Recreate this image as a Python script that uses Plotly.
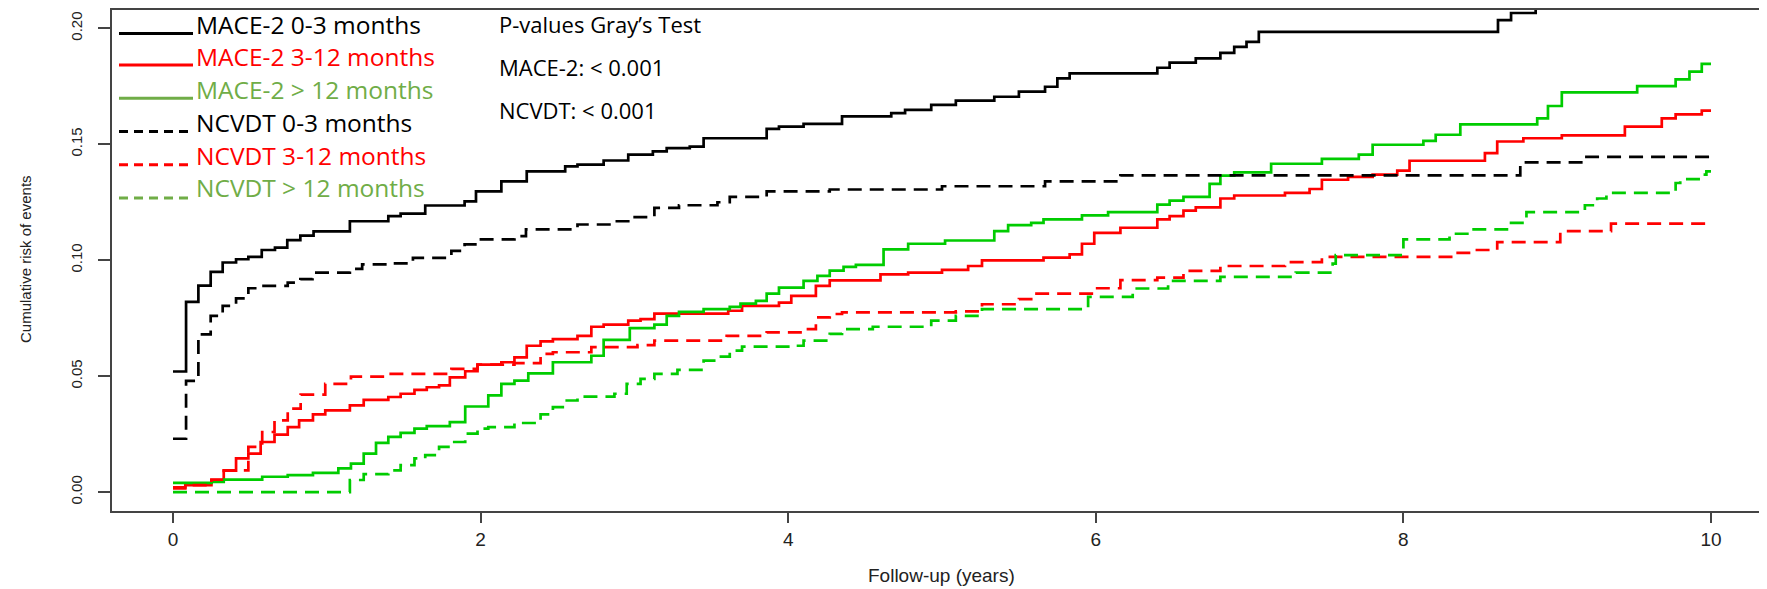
import plotly.graph_objects as go

# ---------------- data ----------------
mace_03_t = [0, 0.085, 0.165, 0.245, 0.323, 0.41, 0.49, 0.577, 0.663, 0.743, 0.828, 0.914, 1.15, 1.40, 1.48, 1.64,
             1.896, 1.97, 2.135, 2.30, 2.55, 2.63, 2.80, 2.96, 3.12, 3.21, 3.36, 3.45, 3.86, 3.94, 4.10, 4.35, 4.67,
             4.76, 4.93, 5.09, 5.34, 5.50, 5.67, 5.75, 5.83, 6.40, 6.48, 6.65, 6.81, 6.90, 6.98, 7.06, 8.615, 8.70,
             8.86, 10]
mace_03_v = [0.052, 0.082, 0.089, 0.095, 0.099, 0.1004, 0.1014, 0.1044, 0.1054, 0.1087, 0.1106, 0.1124, 0.1168, 0.119,
             0.1201, 0.1236, 0.1254, 0.1297, 0.134, 0.1383, 0.1405, 0.1412, 0.143, 0.1455, 0.1469, 0.1483, 0.149,
             0.1526, 0.1566, 0.1576, 0.1588, 0.162, 0.1634, 0.1648, 0.167, 0.1688, 0.1705, 0.1727, 0.1748, 0.1784,
             0.1806, 0.183, 0.1852, 0.187, 0.1894, 0.192, 0.1942, 0.1985, 0.2035, 0.2066, 0.212, 0.212]

mace_312_t = [0, 0.08, 0.25, 0.33, 0.41, 0.49, 0.57, 0.66, 0.746, 0.82, 0.91, 0.99, 1.15, 1.24, 1.40, 1.48, 1.57,
              1.65, 1.73, 1.80, 1.90, 1.98, 2.135, 2.22, 2.30, 2.39, 2.47, 2.63, 2.72, 2.80, 2.96, 3.04, 3.13, 3.61,
              3.70, 3.94, 4.02, 4.18, 4.27, 4.60, 4.78, 5.0, 5.17, 5.26, 5.66, 5.83, 5.91, 5.99, 6.16, 6.40, 6.48,
              6.57, 6.65, 6.81, 6.90, 7.23, 7.39, 7.47, 7.64, 7.80, 7.96, 8.04, 8.53, 8.61, 8.78, 9.03, 9.44, 9.68,
              9.77, 9.94, 10]
mace_312_v = [0.0016, 0.003, 0.0052, 0.0092, 0.0145, 0.0166, 0.0216, 0.0248, 0.028, 0.0309, 0.0335, 0.0352, 0.0374,
              0.0398, 0.041, 0.0424, 0.0441, 0.0452, 0.046, 0.0495, 0.0521, 0.055, 0.056, 0.0581, 0.0631, 0.065,
              0.066, 0.0674, 0.0713, 0.0722, 0.0739, 0.0746, 0.077, 0.0782, 0.0803, 0.0817, 0.0846, 0.0889, 0.0913,
              0.0939, 0.0946, 0.0958, 0.0975, 0.0999, 0.1011, 0.1025, 0.1071, 0.1118, 0.114, 0.1176, 0.119, 0.1214,
              0.1228, 0.1266, 0.1279, 0.129, 0.1307, 0.1347, 0.1359, 0.1369, 0.1386, 0.1429, 0.1462, 0.1512, 0.1526,
              0.1538, 0.1576, 0.1612, 0.1629, 0.1645, 0.1645]

mace_12_t = [0, 0.25, 0.33, 0.58, 0.746, 0.91, 1.075, 1.157, 1.24, 1.32, 1.40, 1.48, 1.57, 1.65, 1.80, 1.90, 2.05,
             2.135, 2.22, 2.31, 2.47, 2.72, 2.80, 2.97, 3.13, 3.21, 3.29, 3.45, 3.62, 3.69, 3.79, 3.86, 3.94, 4.10,
             4.19, 4.27, 4.36, 4.44, 4.62, 4.78, 5.02, 5.34, 5.43, 5.58, 5.66, 5.91, 6.08, 6.40, 6.48, 6.57, 6.74,
             6.81, 6.90, 7.14, 7.47, 7.71, 7.80, 8.13, 8.21, 8.37, 8.87, 8.94, 9.03, 9.52, 9.77, 9.86, 9.94, 10]
mace_12_v = [0.004, 0.0044, 0.0054, 0.0066, 0.0073, 0.0083, 0.0102, 0.0123, 0.0166, 0.0212, 0.0238, 0.0255, 0.0274,
             0.0284, 0.0302, 0.0369, 0.0417, 0.0467, 0.0481, 0.0512, 0.056, 0.0588, 0.0656, 0.0707, 0.0722, 0.076,
             0.0777, 0.0789, 0.0799, 0.0813, 0.0825, 0.0856, 0.0882, 0.0911, 0.0932, 0.0955, 0.0971, 0.098, 0.1047,
             0.1071, 0.1085, 0.1125, 0.1151, 0.1161, 0.1176, 0.1193, 0.1207, 0.124, 0.1257, 0.1273, 0.1329, 0.1365,
             0.1379, 0.1416, 0.1437, 0.1455, 0.1498, 0.1515, 0.1541, 0.1586, 0.1612, 0.1665, 0.1724, 0.1751, 0.178,
             0.1813, 0.1847, 0.1847]

ncvdt_03_t = [0, 0.085, 0.165, 0.245, 0.323, 0.41, 0.49, 0.577, 0.746, 0.828, 0.907, 1.15, 1.23, 1.40, 1.56, 1.81,
              1.896, 1.98, 2.22, 2.295, 2.63, 2.87, 2.96, 3.13, 3.29, 3.54, 3.62, 3.86, 4.27, 5.0, 5.67, 6.16, 8.76,
              9.19, 10]
ncvdt_03_v = [0.023, 0.048, 0.068, 0.076, 0.0803, 0.0835, 0.0879, 0.0889, 0.0903, 0.0918, 0.0946, 0.0963, 0.0982,
              0.0986, 0.101, 0.104, 0.1068, 0.109, 0.1104, 0.1133, 0.1154, 0.1168, 0.1186, 0.1226, 0.1237, 0.125,
              0.1273, 0.1297, 0.1305, 0.1319, 0.134, 0.1366, 0.1422, 0.1446, 0.1446]

ncvdt_312_t = [0, 0.08, 0.25, 0.33, 0.49, 0.58, 0.66, 0.746, 0.83, 0.99, 1.157, 1.40, 1.81, 1.98, 2.22, 2.39, 2.47,
               2.72, 3.02, 3.13, 3.60, 3.86, 4.10, 4.18, 4.27, 4.35, 5.09, 5.26, 5.50, 5.58, 5.99, 6.16, 6.40, 6.57,
               6.81, 7.23, 7.47, 8.33, 8.44, 8.61, 9.02, 9.35, 10]
ncvdt_312_v = [0.002, 0.003, 0.0054, 0.0094, 0.0195, 0.0259, 0.0309, 0.036, 0.042, 0.0467, 0.0498, 0.051, 0.0531,
               0.055, 0.0556, 0.0596, 0.0603, 0.0625, 0.0634, 0.0653, 0.0674, 0.0689, 0.0703, 0.0753, 0.0768, 0.0775,
               0.0779, 0.081, 0.0832, 0.0856, 0.0879, 0.0914, 0.0925, 0.0954, 0.0975, 0.0992, 0.1014, 0.1032, 0.1044,
               0.1078, 0.1125, 0.1158, 0.1158]

ncvdt_12_t = [0, 1.15, 1.24, 1.40, 1.48, 1.57, 1.64, 1.73, 1.80, 1.90, 1.98, 2.05, 2.22, 2.39, 2.47, 2.55, 2.63,
              2.87, 2.95, 3.04, 3.13, 3.28, 3.45, 3.54, 3.62, 3.70, 4.03, 4.10, 4.27, 4.35, 4.55, 4.93, 5.09, 5.26,
              5.95, 6.24, 6.47, 6.81, 7.30, 7.54, 7.56, 8.0, 8.30, 8.44, 8.70, 8.80, 9.18, 9.26, 9.32, 9.77, 9.80,
              9.93, 9.97, 10]
ncvdt_12_v = [0.0, 0.0052, 0.0077, 0.0094, 0.0116, 0.0145, 0.0159, 0.0195, 0.0216, 0.0252, 0.0274, 0.028, 0.0298,
              0.0335, 0.0366, 0.0395, 0.0412, 0.0424, 0.0467, 0.0488, 0.051, 0.0527, 0.0567, 0.0584, 0.061, 0.0627,
              0.0631, 0.0653, 0.0682, 0.0703, 0.0713, 0.0739, 0.076, 0.0789, 0.0842, 0.0878, 0.0911, 0.0928, 0.0946,
              0.0985, 0.1022, 0.109, 0.1114, 0.1133, 0.1161, 0.1207, 0.1237, 0.1266, 0.129, 0.1333, 0.135, 0.1369,
              0.1383, 0.1383]

legend_labels = ["MACE-2 0-3 months", "MACE-2 3-12 months", "MACE-2 > 12 months",
                 "NCVDT 0-3 months", "NCVDT 3-12 months", "NCVDT > 12 months"]
pvalue_lines = ["P-values Gray\u2019s Test", "MACE-2: < 0.001", "NCVDT: < 0.001"]
x_ticks = [0, 2, 4, 6, 8, 10]
y_ticks = [0.0, 0.05, 0.10, 0.15, 0.20]
y_tick_text = ["0.00", "0.05", "0.10", "0.15", "0.20"]

# ---------------- styles ----------------
BLACK, RED, GREEN = "#000000", "#FF0000", "#00CC00"
LEG_GREEN = "#70AD47"
DASH = "14px,8px"
LW = 2.7

series = [
    (mace_03_t, mace_03_v, BLACK, "solid"),
    (mace_312_t, mace_312_v, RED, "solid"),
    (mace_12_t, mace_12_v, GREEN, "solid"),
    (ncvdt_03_t, ncvdt_03_v, BLACK, DASH),
    (ncvdt_312_t, ncvdt_312_v, RED, DASH),
    (ncvdt_12_t, ncvdt_12_v, GREEN, DASH),
]

# the page body adds an 8px margin: compensate so the figure fills the 1767x589 window
OFF = 8
W, H = 1767 - OFF, 589 - OFF
# plot area in window pixels: left 112, right 1767, top 7, bottom 511
ML, MR, MT, MB = 112 - OFF, 0, 7 - OFF, 589 - 511
MT = max(MT, 0)
PW, PH = W - ML - MR, H - MT - MB
PB = H - MB


def px_x(px):
    return (px - OFF - ML) / PW


def px_y(py):
    return (PB - (py - OFF)) / PH


# data-to-pixel scale (0 at x=173, 10 at x=1711; 0.00 at y=492, 0.20 at y=26)
XPX = 153.8
YPX = 2328.0
x_lo = (112 - 173) / XPX
x_hi = (1767 - 173) / XPX
y_top_px = OFF + MT
y_lo = (492 - 511) / YPX
y_hi = (492 - y_top_px) / YPX

fig = go.Figure()
for t, v, c, d in series:
    fig.add_trace(go.Scatter(x=t, y=v, mode="lines", line=dict(color=c, width=LW, dash=d, shape="hv"),
                             showlegend=False, hoverinfo="skip"))

AXC = "#444444"
fig.update_layout(
    width=W, height=H, margin=dict(l=ML, r=MR, t=MT, b=MB, pad=0),
    plot_bgcolor="white", paper_bgcolor="white",
    xaxis=dict(range=[x_lo, x_hi], tickvals=x_ticks,
               ticks="outside", ticklen=10, tickwidth=1.5, tickcolor=AXC,
               showline=True, linecolor=AXC, linewidth=1.5, mirror=True,
               showgrid=False, zeroline=False,
               tickfont=dict(family="Liberation Sans, Arial", size=19, color="#222")),
    yaxis=dict(range=[y_lo, y_hi], tickvals=y_ticks, ticktext=y_tick_text, tickangle=-90,
               ticks="outside", ticklen=12, tickwidth=1.5, tickcolor=AXC,
               showline=True, linecolor=AXC, linewidth=1.5, mirror=False,
               showgrid=False, zeroline=False, ticklabelstandoff=10,
               tickfont=dict(family="Liberation Sans, Arial", size=15, color="#222")),
)

annotations = []
shapes = []
# axis titles
annotations.append(dict(text="Follow-up (years)", x=px_x(941), y=px_y(576), xref="paper", yref="paper",
                        showarrow=False, xanchor="center", yanchor="middle",
                        font=dict(family="Liberation Sans, Arial", size=19, color="#222")))
annotations.append(dict(text="Cumulative risk of events", x=px_x(25), y=px_y(258), xref="paper", yref="paper",
                        showarrow=False, xanchor="center", yanchor="middle", textangle=-90,
                        font=dict(family="Liberation Sans, Arial", size=15, color="#222")))

# legend (line samples + coloured text)
leg_colors = [BLACK, RED, LEG_GREEN, BLACK, RED, LEG_GREEN]
leg_dash = ["solid", "solid", "solid", "9px,6px", "9px,6px", "9px,6px"]
leg_text_y = [22.7, 55, 87.7, 120.7, 154, 186.7]
leg_line_y = [31.7, 63.3, 96.7, 130, 163.3, 196.7]
for lab, c, d, ty, ly in zip(legend_labels, leg_colors, leg_dash, leg_text_y, leg_line_y):
    shapes.append(dict(type="line", xref="paper", yref="paper", x0=px_x(119), x1=px_x(193),
                       y0=px_y(ly), y1=px_y(ly), line=dict(color=c, width=3, dash=d)))
    annotations.append(dict(text=lab, x=px_x(194), y=px_y(ty), xref="paper", yref="paper", showarrow=False,
                            xanchor="left", yanchor="middle",
                            font=dict(family="Open Sans", size=24.5, color=c)))

for txt, ty in zip(pvalue_lines, [21.7, 65, 108]):
    annotations.append(dict(text=txt, x=px_x(497), y=px_y(ty), xref="paper", yref="paper", showarrow=False,
                            xanchor="left", yanchor="middle",
                            font=dict(family="Open Sans", size=22, color="#000")))

fig.update_layout(annotations=annotations, shapes=shapes)
fig.write_html("out.html")
